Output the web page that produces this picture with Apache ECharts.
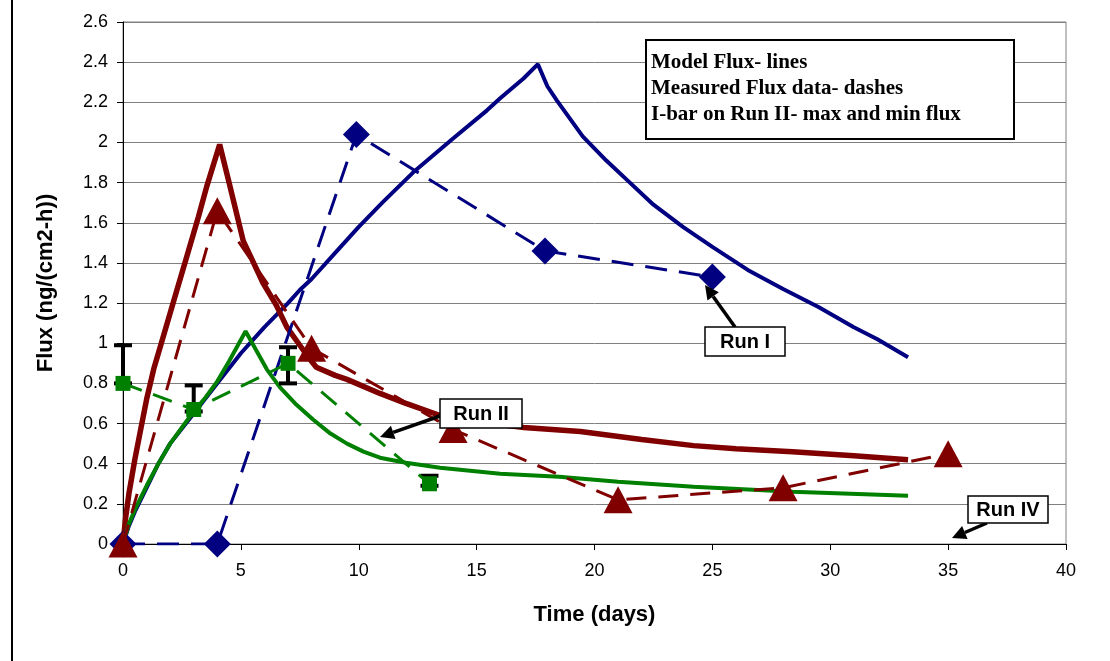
<!DOCTYPE html>
<html>
<head>
<meta charset="utf-8">
<script src="https://cdn.jsdelivr.net/npm/echarts@6/dist/echarts.min.js"></script>
<style>
  html, body { margin: 0; padding: 0; background: #fff; }
  #chart { width: 1110px; height: 661px; }
</style>
</head>
<body>
<div id="chart"></div>
<script>
// model flux (solid lines), [time, flux]
const modelRunI = [[0,0],[0.25,0.09],[0.5,0.16],[1,0.28],[1.5,0.4],[2,0.5],[3,0.65],[4,0.8],[5,0.95],[6,1.08],[7,1.2],
  [7.5,1.265],[8,1.32],[9,1.45],[10,1.58],[11,1.7],[12.3,1.85],[13,1.92],[14,2.02],[15.44,2.16],[16,2.22],[17,2.32],[17.6,2.39],
  [18,2.28],[18.4,2.21],[19.5,2.03],[20.5,1.91],[21.5,1.8],[22.5,1.69],[23.75,1.58],[25,1.48],[26.5,1.365],[28,1.27],
  [29.5,1.18],[31,1.08],[32,1.02],[33.3,0.93]];
const modelRunII = [[0,0],[0.25,0.1],[0.5,0.17],[1,0.29],[1.5,0.4],[2,0.5],[2.5,0.58],[3,0.66],[3.5,0.73],[4,0.81],[4.5,0.91],
  [5.2,1.06],[6.1,0.87],[6.66,0.78],[7.3,0.7],[8.06,0.62],[8.8,0.55],[9.5,0.5],[10.2,0.46],[10.9,0.43],[12,0.405],[13.45,0.38],
  [16,0.35],[18.5,0.335],[21,0.31],[24.2,0.285],[28.4,0.26],[33.3,0.24]];
const modelRunIII = [[0,0],[0.1,0.12],[0.25,0.25],[0.5,0.42],[0.75,0.57],[1,0.72],[1.3,0.87],[1.7,1.03],[2.2,1.23],[2.7,1.43],
  [3.2,1.63],[3.55,1.78],[4.1,1.99],[4.5,1.8],[5.1,1.51],[5.5,1.41],[5.94,1.3],[6.5,1.19],[6.95,1.08],[7.5,0.99],[7.93,0.92],
  [8.2,0.88],[9,0.84],[9.5,0.82],[10.9,0.75],[12,0.7],[13.45,0.64],[15,0.61],[17,0.58],[19.4,0.56],[22,0.52],[24.2,0.49],
  [26,0.475],[28.4,0.46],[31,0.44],[33.3,0.42]];

// measured flux (dashes + markers)
const measuredRunI = [[0,0],[4,0],[9.9,2.04],[17.9,1.46],[25,1.33]];
const measuredRunII = [[0,0.8],[3,0.67],[7,0.9],[13,0.3]];
const measuredRunIII = [[0,0],[4,1.66],[8,0.975],[14,0.57],[21,0.22],[28,0.28],[35,0.45]];

// I-bars on Run II: [time, min, max]
const runIIRange = [[0,0.8,0.99],[3,0.66,0.79],[7,0.8,0.98],[13,0.29,0.34]];

const legendLines = ['Model Flux- lines', 'Measured Flux data- dashes', 'I-bar on Run II- max and min flux'];

const BLUE = '#000080', RED = '#800000', GREEN = '#008000';

function callout(label, box, from, tip) {
  const dx = tip[0] - from[0], dy = tip[1] - from[1];
  const len = Math.sqrt(dx * dx + dy * dy);
  const ux = dx / len, uy = dy / len;
  const hl = 14, hw = 7;
  const bx = tip[0] - ux * hl, by = tip[1] - uy * hl;
  return [
    { type: 'line', z: 100, shape: { x1: from[0], y1: from[1], x2: bx, y2: by }, style: { stroke: '#000', lineWidth: 3.5 } },
    { type: 'polygon', z: 100, shape: { points: [tip, [bx - uy * hw, by + ux * hw], [bx + uy * hw, by - ux * hw]] }, style: { fill: '#000' } },
    { type: 'rect', z: 101, shape: { x: box[0], y: box[1], width: box[2], height: box[3] }, style: { fill: '#fff', stroke: '#000', lineWidth: 1.5 } },
    { type: 'text', z: 102, x: box[0] + box[2] / 2, y: box[1] + box[3] / 2 + 1,
      style: { text: label, font: 'bold 20px "Liberation Sans", Arial', fill: '#000', align: 'center', verticalAlign: 'middle' } }
  ];
}

const chart = echarts.init(document.getElementById('chart'));

const option = {
  animation: false,
  backgroundColor: '#fff',
  grid: { left: 123, right: 44, top: 22, bottom: 117, show: true, borderColor: '#808080', borderWidth: 1 },
  xAxis: {
    type: 'value', min: 0, max: 40, interval: 5,
    name: 'Time (days)', nameLocation: 'middle', nameGap: 60,
    nameTextStyle: { fontFamily: 'Liberation Sans', fontWeight: 'bold', fontSize: 22, color: '#000' },
    axisLine: { lineStyle: { color: '#000', width: 1 } },
    axisTick: { show: true, inside: false, length: 6, lineStyle: { color: '#000' } },
    axisLabel: { fontFamily: 'Liberation Sans', fontSize: 18, color: '#000', margin: 18 },
    splitLine: { show: false }
  },
  yAxis: {
    type: 'value', min: 0, max: 2.6, interval: 0.2,
    name: 'Flux (ng/(cm2-h))', nameLocation: 'middle', nameGap: 66, nameRotate: 90,
    nameTextStyle: { fontFamily: 'Liberation Sans', fontWeight: 'bold', fontSize: 22, color: '#000' },
    axisLine: { show: true, lineStyle: { color: '#000', width: 1 } },
    axisTick: { show: true, inside: false, length: 6, lineStyle: { color: '#000' } },
    axisLabel: { fontFamily: 'Liberation Sans', fontSize: 18, color: '#000', margin: 15 },
    splitLine: { show: true, lineStyle: { color: '#808080', width: 1 } }
  },
  series: [
    { type: 'line', name: 'Run I model', data: modelRunI, showSymbol: false, z: 4,
      lineStyle: { color: BLUE, width: 4 } },
    { type: 'line', name: 'Run III model', data: modelRunIII, showSymbol: false, z: 4,
      lineStyle: { color: RED, width: 5.5 } },
    { type: 'line', name: 'Run II model', data: modelRunII, showSymbol: false, z: 4,
      lineStyle: { color: GREEN, width: 4 } },
    { type: 'custom', name: 'Run II range', data: runIIRange, z: 5,
      renderItem: function (params, api) {
        const x = api.value(0);
        const lo = api.coord([x, api.value(1)]);
        const hi = api.coord([x, api.value(2)]);
        const w = 9;
        const st = { stroke: '#000', lineWidth: 4 };
        return { type: 'group', children: [
          { type: 'line', shape: { x1: lo[0], y1: lo[1], x2: hi[0], y2: hi[1] }, style: st },
          { type: 'line', shape: { x1: hi[0] - w, y1: hi[1], x2: hi[0] + w, y2: hi[1] }, style: st },
          { type: 'line', shape: { x1: lo[0] - w, y1: lo[1], x2: lo[0] + w, y2: lo[1] }, style: st }
        ] };
      } },
    { type: 'line', name: 'Run I measured', data: measuredRunI, z: 6,
      symbol: 'diamond', symbolSize: 27, itemStyle: { color: BLUE },
      lineStyle: { color: BLUE, width: 3, type: [22, 12] } },
    { type: 'line', name: 'Run II measured', data: measuredRunII, z: 6,
      symbol: 'rect', symbolSize: 15, itemStyle: { color: GREEN },
      lineStyle: { color: GREEN, width: 3, type: [20, 12] } },
    { type: 'line', name: 'Run III measured', data: measuredRunIII, z: 7,
      symbol: 'triangle', symbolSize: [29, 27], itemStyle: { color: RED },
      lineStyle: { color: RED, width: 3, type: [20, 12] } }
  ],
  graphic: [
    { type: 'rect', z: 0, silent: true, shape: { x: 12, y: -10, width: 1200, height: 700 },
      style: { fill: 'none', stroke: '#000', lineWidth: 2 } },
    { type: 'rect', z: 100, shape: { x: 646, y: 40, width: 368, height: 99 },
      style: { fill: '#fff', stroke: '#000', lineWidth: 2 } },
    ...legendLines.map((t, i) => ({
      type: 'text', z: 101, x: 651, y: 63 + i * 26,
      style: { text: t, font: 'bold 21px "Liberation Serif", "Times New Roman"', fill: '#000', verticalAlign: 'middle' }
    })),
    ...callout('Run I', [705, 327, 80, 29], [735, 327], [705, 285]),
    ...callout('Run II', [440, 399, 82, 29], [440, 416], [380, 437]),
    ...callout('Run IV', [968, 496, 80, 27], [987, 523], [952, 538])
  ]
};

chart.setOption(option);
</script>
</body>
</html>
